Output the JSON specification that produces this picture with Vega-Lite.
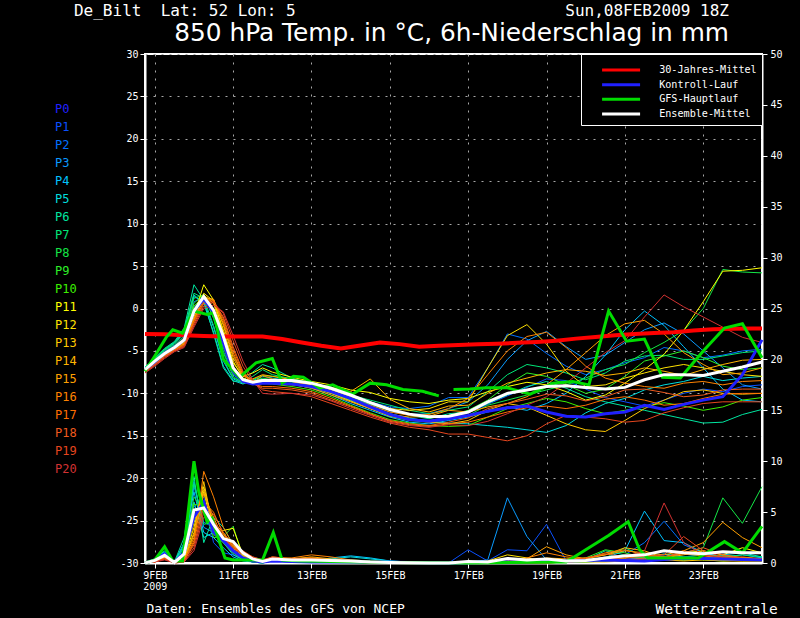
{
  "$schema": "https://vega.github.io/schema/vega-lite/v6.json",
  "width": 617,
  "height": 509,
  "autosize": {"type": "none"},
  "padding": {"left": 145, "top": 54, "right": 38, "bottom": 55},
  "background": "black",
  "title": {
    "text": "De_Bilt\u00a0\u00a0Lat: 52 Lon: 5\u00a0\u00a0\u00a0\u00a0\u00a0\u00a0\u00a0\u00a0\u00a0\u00a0\u00a0\u00a0\u00a0\u00a0\u00a0\u00a0\u00a0\u00a0\u00a0\u00a0\u00a0\u00a0\u00a0\u00a0\u00a0\u00a0\u00a0\u00a0Sun,08FEB2009 18Z\u00a0",
    "subtitle": "850 hPa Temp. in °C, 6h-Niederschlag in mm",
    "anchor": "end",
    "frame": "group",
    "dx": -33,
    "offset": 3,
    "font": "DejaVu Sans Mono",
    "fontSize": 16,
    "fontWeight": "normal",
    "color": "white",
    "subtitleFont": "DejaVu Sans",
    "subtitleFontSize": 24.8,
    "subtitleColor": "white",
    "subtitlePadding": 2
  },
  "datasets": {
    "tempMembers": [
      {"h":0,"P1":-7.1,"P2":-7.0,"P3":-7.2,"P4":-7.0,"P5":-6.9,"P6":-6.9,"P7":-7.0,"P8":-7.1,"P9":-7.1,"P10":-7.2,"P11":-7.3,"P12":-7.3,"P13":-7.2,"P14":-7.3,"P15":-7.4,"P16":-7.3,"P17":-7.4,"P18":-7.5,"P19":-7.5,"P20":-7.6},
      {"h":6,"P1":-6.2,"P2":-6.0,"P3":-6.3,"P4":-6.0,"P5":-5.9,"P6":-5.8,"P7":-5.9,"P8":-6.0,"P9":-6.1,"P10":-6.2,"P11":-6.4,"P12":-6.4,"P13":-6.3,"P14":-6.5,"P15":-6.5,"P16":-6.4,"P17":-6.6,"P18":-6.6,"P19":-6.7,"P20":-6.8},
      {"h":12,"P1":-5.2,"P2":-5.0,"P3":-5.3,"P4":-4.9,"P5":-4.8,"P6":-4.7,"P7":-4.8,"P8":-4.9,"P9":-5.1,"P10":-5.2,"P11":-5.4,"P12":-5.4,"P13":-5.4,"P14":-5.5,"P15":-5.6,"P16":-5.5,"P17":-5.6,"P18":-5.7,"P19":-5.8,"P20":-5.9},
      {"h":18,"P1":-4.5,"P2":-4.3,"P3":-4.6,"P4":-4.1,"P5":-4.0,"P6":-3.9,"P7":-4.0,"P8":-4.2,"P9":-4.4,"P10":-4.5,"P11":-4.7,"P12":-4.7,"P13":-4.7,"P14":-4.8,"P15":-4.9,"P16":-4.8,"P17":-4.9,"P18":-5.0,"P19":-5.0,"P20":-5.1},
      {"h":24,"P1":-3.6,"P2":-3.2,"P3":-3.5,"P4":-2.8,"P5":-2.6,"P6":-2.3,"P7":-2.5,"P8":-2.9,"P9":-3.3,"P10":-3.5,"P11":-3.9,"P12":-4.0,"P13":-3.9,"P14":-4.1,"P15":-4.2,"P16":-4.1,"P17":-4.3,"P18":-4.4,"P19":-4.5,"P20":-4.6},
      {"h":30,"P1":-0.2,"P2":0.8,"P3":0.2,"P4":1.4,"P5":1.6,"P6":2.8,"P7":1.8,"P8":1.2,"P9":0.6,"P10":0.3,"P11":-0.8,"P12":-1.0,"P13":-0.6,"P14":-1.2,"P15":-1.4,"P16":-1.3,"P17":-1.6,"P18":-1.8,"P19":-2.0,"P20":-2.2},
      {"h":36,"P1":1.2,"P2":1.3,"P3":1.5,"P4":0.8,"P5":0.6,"P6":1.0,"P7":1.2,"P8":1.6,"P9":1.7,"P10":1.4,"P11":2.8,"P12":1.8,"P13":1.6,"P14":1.4,"P15":1.2,"P16":1.0,"P17":0.8,"P18":0.6,"P19":0.3,"P20":0.0},
      {"h":42,"P1":-0.3,"P2":-1.0,"P3":-0.2,"P4":-2.2,"P5":-2.8,"P6":-3.0,"P7":-2.0,"P8":-1.2,"P9":-0.6,"P10":-0.4,"P11":1.0,"P12":0.9,"P13":0.6,"P14":1.0,"P15":1.1,"P16":1.0,"P17":0.9,"P18":0.8,"P19":0.7,"P20":0.4},
      {"h":48,"P1":-4.0,"P2":-5.0,"P3":-4.2,"P4":-6.2,"P5":-6.8,"P6":-7.0,"P7":-6.0,"P8":-5.2,"P9":-4.6,"P10":-4.4,"P11":-2.8,"P12":-2.5,"P13":-3.0,"P14":-2.0,"P15":-1.8,"P16":-1.5,"P17":-1.2,"P18":-1.0,"P19":-0.6,"P20":-0.4},
      {"h":54,"P1":-7.3,"P2":-7.8,"P3":-7.5,"P4":-8.3,"P5":-8.5,"P6":-8.6,"P7":-8.2,"P8":-8.0,"P9":-7.6,"P10":-7.4,"P11":-6.4,"P12":-6.2,"P13":-6.8,"P14":-5.8,"P15":-5.5,"P16":-5.2,"P17":-4.8,"P18":-4.5,"P19":-3.8,"P20":-3.2},
      {"h":60,"P1":-8.6,"P2":-8.7,"P3":-8.5,"P4":-8.8,"P5":-8.9,"P6":-8.5,"P7":-8.6,"P8":-8.8,"P9":-8.5,"P10":-8.6,"P11":-8.0,"P12":-8.2,"P13":-8.4,"P14":-8.0,"P15":-7.8,"P16":-7.8,"P17":-7.6,"P18":-7.4,"P19":-6.8,"P20":-6.2},
      {"h":66,"P1":-8.8,"P2":-8.8,"P3":-8.6,"P4":-8.6,"P5":-8.5,"P6":-7.5,"P7":-8.0,"P8":-8.6,"P9":-8.4,"P10":-8.9,"P11":-7.6,"P12":-8.6,"P13":-8.7,"P14":-8.3,"P15":-8.5,"P16":-8.8,"P17":-8.9,"P18":-8.8,"P19":-8.6,"P20":-8.4},
      {"h":72,"P1":-8.7,"P2":-8.5,"P3":-8.4,"P4":-8.3,"P5":-8.0,"P6":-6.6,"P7":-7.2,"P8":-8.2,"P9":-7.9,"P10":-8.8,"P11":-7.0,"P12":-8.4,"P13":-8.7,"P14":-7.8,"P15":-8.6,"P16":-7.9,"P17":-9.2,"P18":-9.4,"P19":-9.6,"P20":-10.0},
      {"h":78,"P1":-8.7,"P2":-8.4,"P3":-8.3,"P4":-8.6,"P5":-8.2,"P6":-7.0,"P7":-7.8,"P8":-8.4,"P9":-8.0,"P10":-8.9,"P11":-7.5,"P12":-8.5,"P13":-8.8,"P14":-8.0,"P15":-8.7,"P16":-8.3,"P17":-9.2,"P18":-9.4,"P19":-9.8,"P20":-10.1},
      {"h":90,"P1":-8.9,"P2":-8.5,"P3":-8.4,"P4":-8.9,"P5":-8.6,"P6":-8.2,"P7":-8.3,"P8":-8.7,"P9":-8.3,"P10":-9.2,"P11":-8.1,"P12":-8.6,"P13":-9.0,"P14":-8.4,"P15":-8.9,"P16":-8.6,"P17":-9.4,"P18":-9.6,"P19":-10.0,"P20":-10.0},
      {"h":102,"P1":-9.2,"P2":-8.9,"P3":-8.8,"P4":-9.4,"P5":-9.1,"P6":-9.0,"P7":-8.8,"P8":-9.2,"P9":-8.7,"P10":-9.6,"P11":-8.6,"P12":-9.0,"P13":-9.3,"P14":-8.8,"P15":-9.4,"P16":-9.1,"P17":-9.8,"P18":-10.0,"P19":-10.4,"P20":-10.2},
      {"h":114,"P1":-10.0,"P2":-9.6,"P3":-9.5,"P4":-10.2,"P5":-9.9,"P6":-9.8,"P7":-9.4,"P8":-10.0,"P9":-9.4,"P10":-10.4,"P11":-9.0,"P12":-9.6,"P13":-10.0,"P14":-9.3,"P15":-10.2,"P16":-9.8,"P17":-10.6,"P18":-10.8,"P19":-11.2,"P20":-10.9},
      {"h":126,"P1":-11.0,"P2":-10.3,"P3":-10.5,"P4":-11.2,"P5":-10.8,"P6":-10.6,"P7":-10.2,"P8":-10.9,"P9":-10.4,"P10":-11.4,"P11":-9.6,"P12":-10.4,"P13":-10.9,"P14":-9.8,"P15":-11.0,"P16":-10.6,"P17":-11.5,"P18":-11.6,"P19":-12.0,"P20":-11.8},
      {"h":138,"P1":-11.8,"P2":-11.0,"P3":-11.4,"P4":-12.0,"P5":-11.6,"P6":-11.3,"P7":-10.8,"P8":-11.8,"P9":-11.2,"P10":-12.3,"P11":-9.9,"P12":-11.0,"P13":-11.8,"P14":-8.3,"P15":-11.8,"P16":-11.4,"P17":-12.4,"P18":-12.5,"P19":-12.8,"P20":-12.6},
      {"h":150,"P1":-12.6,"P2":-11.6,"P3":-12.2,"P4":-12.8,"P5":-12.4,"P6":-12.0,"P7":-11.4,"P8":-12.7,"P9":-12.0,"P10":-13.1,"P11":-10.6,"P12":-11.8,"P13":-12.7,"P14":-10.7,"P15":-12.5,"P16":-12.2,"P17":-13.3,"P18":-13.2,"P19":-13.5,"P20":-13.4},
      {"h":162,"P1":-13.0,"P2":-11.8,"P3":-12.5,"P4":-13.4,"P5":-12.9,"P6":-12.6,"P7":-12.0,"P8":-13.2,"P9":-12.4,"P10":-13.5,"P11":-11.0,"P12":-12.0,"P13":-13.1,"P14":-11.8,"P15":-12.8,"P16":-12.6,"P17":-13.7,"P18":-13.6,"P19":-14.0,"P20":-13.8},
      {"h":174,"P1":-13.2,"P2":-11.5,"P3":-12.4,"P4":-13.6,"P5":-13.3,"P6":-13.0,"P7":-12.4,"P8":-13.4,"P9":-12.9,"P10":-13.8,"P11":-11.2,"P12":-11.8,"P13":-13.4,"P14":-12.2,"P15":-12.7,"P16":-12.5,"P17":-13.9,"P18":-13.8,"P19":-14.3,"P20":-14.0},
      {"h":186,"P1":-12.8,"P2":-10.5,"P3":-11.8,"P4":-13.2,"P5":-13.5,"P6":-12.4,"P7":-12.0,"P8":-13.0,"P9":-12.6,"P10":-13.9,"P11":-10.8,"P12":-11.0,"P13":-13.6,"P14":-11.5,"P15":-12.0,"P16":-11.8,"P17":-13.6,"P18":-13.4,"P19":-14.8,"P20":-13.7},
      {"h":198,"P1":-12.3,"P2":-10.5,"P3":-11.0,"P4":-12.8,"P5":-13.6,"P6":-12.2,"P7":-11.6,"P8":-12.6,"P9":-12.0,"P10":-13.8,"P11":-10.6,"P12":-11.0,"P13":-13.2,"P14":-11.4,"P15":-12.2,"P16":-10.6,"P17":-13.4,"P18":-12.9,"P19":-14.8,"P20":-13.8},
      {"h":210,"P1":-11.3,"P2":-7.0,"P3":-9.0,"P4":-12.2,"P5":-13.8,"P6":-11.2,"P7":-9.8,"P8":-11.4,"P9":-10.8,"P10":-12.8,"P11":-9.8,"P12":-7.0,"P13":-12.0,"P14":-10.0,"P15":-11.6,"P16":-7.8,"P17":-12.8,"P18":-11.8,"P19":-15.2,"P20":-13.3},
      {"h":222,"P1":-10.3,"P2":-3.0,"P3":-6.0,"P4":-11.6,"P5":-14.0,"P6":-10.2,"P7":-7.8,"P8":-10.8,"P9":-9.0,"P10":-11.8,"P11":-9.2,"P12":-3.2,"P13":-11.2,"P14":-8.8,"P15":-11.2,"P16":-5.0,"P17":-12.2,"P18":-11.2,"P19":-15.6,"P20":-12.4},
      {"h":234,"P1":-9.3,"P2":-3.6,"P3":-3.8,"P4":-12.0,"P5":-14.3,"P6":-9.2,"P7":-6.6,"P8":-10.2,"P9":-7.6,"P10":-11.2,"P11":-8.7,"P12":-1.9,"P13":-11.6,"P14":-8.2,"P15":-10.4,"P16":-3.3,"P17":-11.7,"P18":-10.7,"P19":-15.0,"P20":-11.4},
      {"h":246,"P1":-8.3,"P2":-5.3,"P3":-2.7,"P4":-11.2,"P5":-14.6,"P6":-8.6,"P7":-7.0,"P8":-9.6,"P9":-8.0,"P10":-10.6,"P11":-9.0,"P12":-4.2,"P13":-12.6,"P14":-7.6,"P15":-9.0,"P16":-2.8,"P17":-11.5,"P18":-10.1,"P19":-13.6,"P20":-10.4},
      {"h":258,"P1":-8.5,"P2":-6.8,"P3":-4.5,"P4":-10.0,"P5":-13.8,"P6":-9.4,"P7":-7.6,"P8":-9.0,"P9":-9.0,"P10":-11.0,"P11":-9.8,"P12":-7.4,"P13":-13.6,"P14":-7.2,"P15":-7.2,"P16":-4.6,"P17":-11.8,"P18":-10.3,"P19":-12.6,"P20":-8.8},
      {"h":270,"P1":-9.5,"P2":-7.8,"P3":-6.0,"P4":-8.0,"P5":-12.3,"P6":-10.4,"P7":-8.4,"P8":-8.2,"P9":-10.0,"P10":-11.8,"P11":-10.8,"P12":-9.2,"P13":-14.3,"P14":-7.4,"P15":-5.2,"P16":-6.8,"P17":-11.4,"P18":-10.9,"P19":-12.8,"P20":-7.0},
      {"h":282,"P1":-10.5,"P2":-7.2,"P3":-5.5,"P4":-5.5,"P5":-11.2,"P6":-11.0,"P7":-7.6,"P8":-7.2,"P9":-9.5,"P10":-12.4,"P11":-10.2,"P12":-9.0,"P13":-14.5,"P14":-7.9,"P15":-3.2,"P16":-8.2,"P17":-10.7,"P18":-10.4,"P19":-13.0,"P20":-5.2},
      {"h":294,"P1":-11.0,"P2":-6.4,"P3":-4.0,"P4":-2.5,"P5":-10.6,"P6":-11.5,"P7":-6.2,"P8":-6.6,"P9":-8.0,"P10":-12.0,"P11":-8.8,"P12":-8.2,"P13":-13.2,"P14":-7.6,"P15":-1.8,"P16":-8.8,"P17":-10.4,"P18":-9.6,"P19":-13.4,"P20":-3.8},
      {"h":306,"P1":-11.5,"P2":-5.8,"P3":-2.5,"P4":-0.3,"P5":-9.6,"P6":-12.0,"P7":-5.6,"P8":-5.2,"P9":-6.2,"P10":-11.6,"P11":-7.2,"P12":-7.6,"P13":-11.8,"P14":-7.0,"P15":-1.4,"P16":-9.2,"P17":-10.8,"P18":-9.5,"P19":-13.2,"P20":-1.0},
      {"h":318,"P1":-10.8,"P2":-4.6,"P3":-1.7,"P4":-2.0,"P5":-9.0,"P6":-12.5,"P7":-5.5,"P8":-4.0,"P9":-5.6,"P10":-11.1,"P11":-5.4,"P12":-7.0,"P13":-10.8,"P14":-7.4,"P15":-3.0,"P16":-9.4,"P17":-11.4,"P18":-9.9,"P19":-12.3,"P20":1.6},
      {"h":330,"P1":-10.0,"P2":-5.0,"P3":-3.0,"P4":-4.5,"P5":-8.6,"P6":-13.0,"P7":-6.0,"P8":-2.6,"P9":-5.0,"P10":-11.5,"P11":-2.6,"P12":-6.6,"P13":-9.8,"P14":-7.9,"P15":-5.2,"P16":-8.8,"P17":-11.2,"P18":-10.4,"P19":-11.7,"P20":0.2},
      {"h":342,"P1":-9.5,"P2":-5.8,"P3":-5.0,"P4":-7.0,"P5":-8.0,"P6":-13.5,"P7":-6.0,"P8":0.0,"P9":-5.8,"P10":-12.0,"P11":0.8,"P12":-7.0,"P13":-9.6,"P14":-7.2,"P15":-6.6,"P16":-8.6,"P17":-10.6,"P18":-10.2,"P19":-11.2,"P20":-1.0},
      {"h":354,"P1":-9.8,"P2":-5.5,"P3":-7.0,"P4":-9.5,"P5":-8.5,"P6":-13.4,"P7":-5.6,"P8":4.6,"P9":-6.8,"P10":-11.6,"P11":4.4,"P12":-7.4,"P13":-10.0,"P14":-6.6,"P15":-7.8,"P16":-9.0,"P17":-10.1,"P18":-9.6,"P19":-11.0,"P20":-2.2},
      {"h":366,"P1":-9.2,"P2":-5.0,"P3":-9.0,"P4":-10.8,"P5":-8.2,"P6":-12.5,"P7":-5.2,"P8":4.3,"P9":-7.2,"P10":-10.8,"P11":4.5,"P12":-7.8,"P13":-10.1,"P14":-6.1,"P15":-7.6,"P16":-8.6,"P17":-10.0,"P18":-9.5,"P19":-11.0,"P20":-3.4},
      {"h":378,"P1":-9.0,"P2":-4.8,"P3":-9.5,"P4":-11.0,"P5":-8.0,"P6":-11.9,"P7":-5.0,"P8":4.2,"P9":-7.0,"P10":-10.5,"P11":4.8,"P12":-8.0,"P13":-10.0,"P14":-6.0,"P15":-7.0,"P16":-8.5,"P17":-10.0,"P18":-9.5,"P19":-11.0,"P20":-4.0}
    ],
    "precipMembers": [
      {"h":0,"P1":0,"P2":0,"P3":0,"P4":0,"P5":0,"P6":0,"P7":0,"P8":0,"P9":0,"P10":0,"P11":0,"P12":0,"P13":0,"P14":0,"P15":0,"P16":0,"P17":0,"P18":0,"P19":0,"P20":0},
      {"h":6,"P1":0.3,"P2":0.4,"P3":0.3,"P4":0.4,"P5":0.3,"P6":0.4,"P7":0.3,"P8":0.3,"P9":0.2,"P10":0.3,"P11":0.2,"P12":0.2,"P13":0.2,"P14":0.2,"P15":0.2,"P16":0.1,"P17":0.1,"P18":0.1,"P19":0.1,"P20":0.1},
      {"h":12,"P1":0.9,"P2":1.0,"P3":0.8,"P4":1.1,"P5":1.0,"P6":1.2,"P7":1.0,"P8":0.9,"P9":0.8,"P10":0.9,"P11":0.7,"P12":0.7,"P13":0.6,"P14":0.6,"P15":0.5,"P16":0.5,"P17":0.4,"P18":0.4,"P19":0.4,"P20":0.3},
      {"h":18,"P1":0.1,"P2":0.1,"P3":0,"P4":0.1,"P5":0.1,"P6":0.1,"P7":0.1,"P8":0.1,"P9":0.1,"P10":0.1,"P11":0,"P12":0,"P13":0,"P14":0,"P15":0,"P16":0,"P17":0,"P18":0,"P19":0,"P20":0},
      {"h":24,"P1":0.8,"P2":1.2,"P3":1.5,"P4":2.0,"P5":1.8,"P6":2.5,"P7":1.6,"P8":1.0,"P9":0.9,"P10":0.8,"P11":0.5,"P12":0.4,"P13":0.4,"P14":0.3,"P15":0.3,"P16":0.2,"P17":0.2,"P18":0.2,"P19":0.1,"P20":0.1},
      {"h":30,"P1":5.5,"P2":7.5,"P3":8.0,"P4":7.0,"P5":6.0,"P6":8.5,"P7":7.8,"P8":6.5,"P9":5.0,"P10":5.8,"P11":4.0,"P12":3.5,"P13":3.0,"P14":2.8,"P15":2.5,"P16":2.0,"P17":2.2,"P18":1.8,"P19":1.5,"P20":1.2},
      {"h":36,"P1":6.5,"P2":4.0,"P3":3.5,"P4":3.0,"P5":2.5,"P6":2.0,"P7":3.8,"P8":5.0,"P9":6.0,"P10":5.5,"P11":7.0,"P12":7.5,"P13":8.0,"P14":7.2,"P15":6.8,"P16":9.0,"P17":6.0,"P18":5.5,"P19":5.0,"P20":4.5},
      {"h":42,"P1":2.0,"P2":3.5,"P3":3.0,"P4":2.5,"P5":3.0,"P6":4.5,"P7":4.0,"P8":3.0,"P9":2.5,"P10":2.8,"P11":3.0,"P12":3.5,"P13":3.2,"P14":4.0,"P15":4.5,"P16":6.5,"P17":5.0,"P18":4.8,"P19":4.2,"P20":4.0},
      {"h":48,"P1":1.0,"P2":2.5,"P3":2.0,"P4":1.5,"P5":2.0,"P6":3.5,"P7":2.0,"P8":2.2,"P9":2.6,"P10":2.0,"P11":3.2,"P12":2.8,"P13":2.5,"P14":3.0,"P15":2.4,"P16":3.5,"P17":2.8,"P18":3.0,"P19":2.6,"P20":2.5},
      {"h":54,"P1":0.8,"P2":1.2,"P3":1.0,"P4":0.6,"P5":0.8,"P6":1.8,"P7":1.0,"P8":1.2,"P9":3.6,"P10":1.0,"P11":3.4,"P12":1.8,"P13":1.5,"P14":1.6,"P15":1.4,"P16":1.8,"P17":1.6,"P18":1.8,"P19":1.5,"P20":1.3},
      {"h":60,"P1":0.4,"P2":0.5,"P3":0.4,"P4":0.2,"P5":0.3,"P6":0.4,"P7":0.3,"P8":0.5,"P9":0.6,"P10":0.4,"P11":0.8,"P12":0.7,"P13":0.6,"P14":0.8,"P15":0.9,"P16":1.0,"P17":1.1,"P18":1.2,"P19":1.0,"P20":0.9},
      {"h":66,"P1":0.1,"P2":0.2,"P3":0.1,"P4":0.1,"P5":0.1,"P6":0.2,"P7":0.1,"P8":0.2,"P9":0.2,"P10":0.1,"P11":0.3,"P12":0.2,"P13":0.2,"P14":0.3,"P15":0.4,"P16":0.5,"P17":0.5,"P18":0.6,"P19":0.6,"P20":0.5},
      {"h":72,"P1":0.1,"P2":0.1,"P3":0,"P4":0,"P5":0,"P6":0.1,"P7":0,"P8":0.1,"P9":0.1,"P10":0,"P11":0.1,"P12":0.1,"P13":0.1,"P14":0.1,"P15":0.2,"P16":0.2,"P17":0.2,"P18":0.3,"P19":0.3,"P20":0.3},
      {"h":78,"P1":0.2,"P2":0.3,"P3":0.2,"P4":0.2,"P5":0.3,"P6":0.5,"P7":0.4,"P8":0.3,"P9":0.4,"P10":0.2,"P11":0.5,"P12":0.4,"P13":0.3,"P14":0.4,"P15":0.5,"P16":0.5,"P17":0.6,"P18":0.6,"P19":0.5,"P20":0.5},
      {"h":90,"P1":0.1,"P2":0.2,"P3":0.1,"P4":0.1,"P5":0.2,"P6":0.3,"P7":0.2,"P8":0.2,"P9":0.3,"P10":0.1,"P11":0.3,"P12":0.3,"P13":0.2,"P14":0.4,"P15":0.4,"P16":0.5,"P17":0.4,"P18":0.4,"P19":0.3,"P20":0.3},
      {"h":102,"P1":0.1,"P2":0.1,"P3":0.2,"P4":0.2,"P5":0.3,"P6":0.2,"P7":0.2,"P8":0.1,"P9":0.2,"P10":0.1,"P11":0.3,"P12":0.4,"P13":0.2,"P14":0.6,"P15":0.5,"P16":0.8,"P17":0.5,"P18":0.4,"P19":0.3,"P20":0.2},
      {"h":114,"P1":0.1,"P2":0.1,"P3":0.3,"P4":0.5,"P5":0.4,"P6":0.2,"P7":0.3,"P8":0.1,"P9":0.2,"P10":0.1,"P11":0.2,"P12":0.2,"P13":0.2,"P14":0.4,"P15":0.3,"P16":0.6,"P17":0.3,"P18":0.2,"P19":0.2,"P20":0.1},
      {"h":126,"P1":0.1,"P2":0.2,"P3":0.2,"P4":0.7,"P5":0.6,"P6":0.3,"P7":0.2,"P8":0.2,"P9":0.2,"P10":0.1,"P11":0.2,"P12":0.1,"P13":0.1,"P14":0.2,"P15":0.2,"P16":0.3,"P17":0.2,"P18":0.1,"P19":0.1,"P20":0.1},
      {"h":138,"P1":0,"P2":0.1,"P3":0.1,"P4":0.5,"P5":0.4,"P6":0.2,"P7":0.1,"P8":0.1,"P9":0.1,"P10":0,"P11":0.2,"P12":0.1,"P13":0,"P14":0.1,"P15":0.1,"P16":0.2,"P17":0.1,"P18":0.1,"P19":0,"P20":0},
      {"h":150,"P1":0,"P2":0,"P3":0,"P4":0.2,"P5":0.2,"P6":0.1,"P7":0,"P8":0,"P9":0.1,"P10":0,"P11":0.1,"P12":0,"P13":0,"P14":0.1,"P15":0,"P16":0.1,"P17":0,"P18":0,"P19":0,"P20":0},
      {"h":162,"P1":0,"P2":0,"P3":0,"P4":0.1,"P5":0.1,"P6":0,"P7":0,"P8":0,"P9":0,"P10":0,"P11":0.1,"P12":0,"P13":0,"P14":0,"P15":0,"P16":0,"P17":0,"P18":0,"P19":0,"P20":0},
      {"h":174,"P1":0,"P2":0,"P3":0,"P4":0,"P5":0,"P6":0,"P7":0,"P8":0,"P9":0,"P10":0,"P11":0,"P12":0,"P13":0,"P14":0,"P15":0,"P16":0,"P17":0,"P18":0,"P19":0,"P20":0},
      {"h":186,"P1":0,"P2":0,"P3":0,"P4":0,"P5":0,"P6":0,"P7":0,"P8":0,"P9":0,"P10":0,"P11":0,"P12":0,"P13":0,"P14":0,"P15":0,"P16":0,"P17":0,"P18":0,"P19":0,"P20":0},
      {"h":198,"P1":1.3,"P2":0.1,"P3":0.1,"P4":0,"P5":0,"P6":0,"P7":0,"P8":0,"P9":0,"P10":0,"P11":0,"P12":0,"P13":0,"P14":0,"P15":0,"P16":0,"P17":0,"P18":0,"P19":0,"P20":0},
      {"h":210,"P1":0.2,"P2":0.1,"P3":0.3,"P4":0,"P5":0,"P6":0,"P7":0,"P8":0,"P9":0,"P10":0,"P11":0,"P12":0.2,"P13":0,"P14":0,"P15":0,"P16":0,"P17":0,"P18":0,"P19":0,"P20":0},
      {"h":222,"P1":1.3,"P2":0.2,"P3":6.4,"P4":0.1,"P5":0,"P6":0,"P7":0,"P8":0,"P9":0,"P10":0,"P11":0,"P12":0.8,"P13":0,"P14":0.1,"P15":0.1,"P16":0.2,"P17":0,"P18":0,"P19":0,"P20":0},
      {"h":234,"P1":1.2,"P2":0.3,"P3":2.6,"P4":0.1,"P5":0,"P6":0,"P7":0.1,"P8":0,"P9":0,"P10":0,"P11":0,"P12":0.5,"P13":0,"P14":0.2,"P15":0.4,"P16":0.5,"P17":0,"P18":0,"P19":0,"P20":0},
      {"h":246,"P1":3.8,"P2":0.2,"P3":0.3,"P4":0.1,"P5":0.1,"P6":0.1,"P7":0.2,"P8":0.1,"P9":0.1,"P10":0,"P11":0.1,"P12":0.2,"P13":0,"P14":0.5,"P15":1.6,"P16":1.0,"P17":0.1,"P18":0.1,"P19":0,"P20":0},
      {"h":258,"P1":0.2,"P2":0.1,"P3":0.1,"P4":0.1,"P5":0.1,"P6":0.2,"P7":0.3,"P8":0.1,"P9":0.2,"P10":0.1,"P11":0.1,"P12":0.1,"P13":0.1,"P14":0.4,"P15":0.8,"P16":0.6,"P17":0.1,"P18":0.2,"P19":0.1,"P20":0.1},
      {"h":270,"P1":0.2,"P2":0.2,"P3":0.1,"P4":0.2,"P5":0.1,"P6":0.3,"P7":0.2,"P8":0.2,"P9":0.5,"P10":0.1,"P11":0.2,"P12":0.2,"P13":0.1,"P14":0.5,"P15":0.4,"P16":0.4,"P17":0.3,"P18":0.5,"P19":0.2,"P20":0.2},
      {"h":282,"P1":0.3,"P2":0.6,"P3":0.2,"P4":0.5,"P5":0.2,"P6":1.2,"P7":0.5,"P8":0.4,"P9":1.3,"P10":0.2,"P11":0.3,"P12":0.4,"P13":0.1,"P14":0.8,"P15":0.8,"P16":1.0,"P17":0.5,"P18":0.9,"P19":0.5,"P20":0.4},
      {"h":294,"P1":0.4,"P2":0.8,"P3":0.3,"P4":1.2,"P5":0.3,"P6":0.8,"P7":1.5,"P8":0.6,"P9":1.0,"P10":0.3,"P11":0.5,"P12":0.3,"P13":0.2,"P14":1.5,"P15":1.2,"P16":1.3,"P17":0.4,"P18":0.6,"P19":0.8,"P20":0.6},
      {"h":306,"P1":0.5,"P2":2.0,"P3":0.4,"P4":5.1,"P5":0.5,"P6":0.5,"P7":0.6,"P8":0.5,"P9":0.5,"P10":0.2,"P11":0.8,"P12":0.2,"P13":0.2,"P14":1.2,"P15":1.0,"P16":0.8,"P17":0.3,"P18":0.4,"P19":0.6,"P20":1.2},
      {"h":318,"P1":0.8,"P2":4.1,"P3":0.5,"P4":2.2,"P5":0.9,"P6":0.4,"P7":0.4,"P8":0.6,"P9":0.4,"P10":0.3,"P11":0.6,"P12":0.3,"P13":0.3,"P14":0.5,"P15":0.8,"P16":0.6,"P17":0.5,"P18":0.6,"P19":0.8,"P20":5.9},
      {"h":330,"P1":0.6,"P2":1.8,"P3":0.3,"P4":2.0,"P5":0.6,"P6":0.6,"P7":0.3,"P8":1.0,"P9":0.3,"P10":0.4,"P11":1.0,"P12":0.5,"P13":0.2,"P14":0.8,"P15":1.2,"P16":0.9,"P17":1.2,"P18":1.0,"P19":2.6,"P20":2.0},
      {"h":342,"P1":0.8,"P2":1.0,"P3":0.4,"P4":1.0,"P5":0.5,"P6":0.8,"P7":0.5,"P8":1.5,"P9":0.4,"P10":0.3,"P11":1.2,"P12":0.4,"P13":0.3,"P14":1.2,"P15":2.0,"P16":0.7,"P17":0.8,"P18":1.5,"P19":1.2,"P20":0.8},
      {"h":354,"P1":0.5,"P2":0.6,"P3":0.3,"P4":0.6,"P5":0.8,"P6":0.7,"P7":0.6,"P8":6.4,"P9":0.5,"P10":0.2,"P11":0.8,"P12":0.3,"P13":0.2,"P14":0.8,"P15":4.0,"P16":0.5,"P17":0.6,"P18":0.8,"P19":0.6,"P20":0.5},
      {"h":366,"P1":0.4,"P2":0.5,"P3":0.5,"P4":0.8,"P5":1.0,"P6":0.5,"P7":0.8,"P8":3.9,"P9":0.4,"P10":0.3,"P11":1.5,"P12":0.2,"P13":0.2,"P14":0.5,"P15":2.5,"P16":0.6,"P17":0.5,"P18":0.5,"P19":0.4,"P20":0.3},
      {"h":378,"P1":0.5,"P2":0.4,"P3":0.3,"P4":0.5,"P5":0.6,"P6":0.4,"P7":0.6,"P8":7.5,"P9":0.3,"P10":0.2,"P11":1.0,"P12":0.2,"P13":0.2,"P14":0.4,"P15":1.5,"P16":0.4,"P17":0.4,"P18":0.3,"P19":0.3,"P20":0.3}
    ],
    "tempSpecial": [
      {"s":"30-Jahres-Mittel","h":0,"t":-3.0},{"s":"30-Jahres-Mittel","h":12,"t":-3.05},{"s":"30-Jahres-Mittel","h":24,"t":-3.15},{"s":"30-Jahres-Mittel","h":36,"t":-3.25},
      {"s":"30-Jahres-Mittel","h":48,"t":-3.3},{"s":"30-Jahres-Mittel","h":60,"t":-3.3},{"s":"30-Jahres-Mittel","h":72,"t":-3.3},{"s":"30-Jahres-Mittel","h":84,"t":-3.6},
      {"s":"30-Jahres-Mittel","h":96,"t":-4.0},{"s":"30-Jahres-Mittel","h":108,"t":-4.4},{"s":"30-Jahres-Mittel","h":120,"t":-4.7},{"s":"30-Jahres-Mittel","h":132,"t":-4.35},
      {"s":"30-Jahres-Mittel","h":144,"t":-4.0},{"s":"30-Jahres-Mittel","h":156,"t":-4.2},{"s":"30-Jahres-Mittel","h":168,"t":-4.5},{"s":"30-Jahres-Mittel","h":180,"t":-4.4},
      {"s":"30-Jahres-Mittel","h":192,"t":-4.3},{"s":"30-Jahres-Mittel","h":204,"t":-4.2},{"s":"30-Jahres-Mittel","h":216,"t":-4.15},{"s":"30-Jahres-Mittel","h":228,"t":-4.05},
      {"s":"30-Jahres-Mittel","h":240,"t":-3.95},{"s":"30-Jahres-Mittel","h":252,"t":-3.8},{"s":"30-Jahres-Mittel","h":264,"t":-3.55},{"s":"30-Jahres-Mittel","h":276,"t":-3.35},
      {"s":"30-Jahres-Mittel","h":288,"t":-3.15},{"s":"30-Jahres-Mittel","h":300,"t":-3.0},{"s":"30-Jahres-Mittel","h":312,"t":-2.9},{"s":"30-Jahres-Mittel","h":324,"t":-2.8},
      {"s":"30-Jahres-Mittel","h":336,"t":-2.6},{"s":"30-Jahres-Mittel","h":348,"t":-2.45},{"s":"30-Jahres-Mittel","h":360,"t":-2.4},{"s":"30-Jahres-Mittel","h":372,"t":-2.35},{"s":"30-Jahres-Mittel","h":378,"t":-2.35},
      {"s":"Kontroll-Lauf","h":0,"t":-7.2},{"s":"Kontroll-Lauf","h":6,"t":-6.3},{"s":"Kontroll-Lauf","h":12,"t":-5.3},{"s":"Kontroll-Lauf","h":18,"t":-4.6},
      {"s":"Kontroll-Lauf","h":24,"t":-3.7},{"s":"Kontroll-Lauf","h":30,"t":-0.3},{"s":"Kontroll-Lauf","h":36,"t":1.1},{"s":"Kontroll-Lauf","h":42,"t":-0.4},
      {"s":"Kontroll-Lauf","h":48,"t":-4.0},{"s":"Kontroll-Lauf","h":54,"t":-7.4},{"s":"Kontroll-Lauf","h":60,"t":-8.6},{"s":"Kontroll-Lauf","h":66,"t":-8.9},
      {"s":"Kontroll-Lauf","h":72,"t":-8.8},{"s":"Kontroll-Lauf","h":78,"t":-8.8},{"s":"Kontroll-Lauf","h":90,"t":-8.9},{"s":"Kontroll-Lauf","h":102,"t":-9.2},
      {"s":"Kontroll-Lauf","h":114,"t":-9.8},{"s":"Kontroll-Lauf","h":126,"t":-10.6},{"s":"Kontroll-Lauf","h":138,"t":-11.6},{"s":"Kontroll-Lauf","h":150,"t":-12.5},
      {"s":"Kontroll-Lauf","h":162,"t":-13.1},{"s":"Kontroll-Lauf","h":174,"t":-13.3},{"s":"Kontroll-Lauf","h":186,"t":-13.0},{"s":"Kontroll-Lauf","h":198,"t":-12.6},
      {"s":"Kontroll-Lauf","h":210,"t":-12.1},{"s":"Kontroll-Lauf","h":222,"t":-11.7},{"s":"Kontroll-Lauf","h":234,"t":-11.5},{"s":"Kontroll-Lauf","h":246,"t":-12.2},
      {"s":"Kontroll-Lauf","h":258,"t":-12.7},{"s":"Kontroll-Lauf","h":270,"t":-12.8},{"s":"Kontroll-Lauf","h":282,"t":-12.4},{"s":"Kontroll-Lauf","h":294,"t":-12.2},
      {"s":"Kontroll-Lauf","h":306,"t":-11.4},{"s":"Kontroll-Lauf","h":318,"t":-11.9},{"s":"Kontroll-Lauf","h":330,"t":-11.3},{"s":"Kontroll-Lauf","h":342,"t":-10.8},
      {"s":"Kontroll-Lauf","h":354,"t":-10.4},{"s":"Kontroll-Lauf","h":366,"t":-7.8},{"s":"Kontroll-Lauf","h":378,"t":-3.7},
      {"s":"GFS-Hauptlauf","h":0,"t":-7.4},{"s":"GFS-Hauptlauf","h":6,"t":-5.6},{"s":"GFS-Hauptlauf","h":13,"t":-3.4},{"s":"GFS-Hauptlauf","h":17,"t":-2.5},
      {"s":"GFS-Hauptlauf","h":23,"t":-2.9},{"s":"GFS-Hauptlauf","h":30,"t":-0.3},{"s":"GFS-Hauptlauf","h":38,"t":-0.7},{"s":"GFS-Hauptlauf","h":42,"t":-0.5},
      {"s":"GFS-Hauptlauf","h":44,"t":-2.1},{"s":"GFS-Hauptlauf","h":48,"t":-6.0},{"s":"GFS-Hauptlauf","h":58,"t":-8.1},{"s":"GFS-Hauptlauf","h":68,"t":-6.4},
      {"s":"GFS-Hauptlauf","h":74,"t":-6.1},{"s":"GFS-Hauptlauf","h":78,"t":-5.9},{"s":"GFS-Hauptlauf","h":84,"t":-8.8},{"s":"GFS-Hauptlauf","h":91,"t":-8.0},
      {"s":"GFS-Hauptlauf","h":97,"t":-8.1},{"s":"GFS-Hauptlauf","h":107,"t":-9.4},{"s":"GFS-Hauptlauf","h":115,"t":-9.0},{"s":"GFS-Hauptlauf","h":127,"t":-10.1},
      {"s":"GFS-Hauptlauf","h":138,"t":-8.8},{"s":"GFS-Hauptlauf","h":148,"t":-9.0},{"s":"GFS-Hauptlauf","h":158,"t":-9.55},{"s":"GFS-Hauptlauf","h":170,"t":-9.75},
      {"s":"GFS-Hauptlauf","h":180,"t":-10.3},{"s":"GFS-Hauptlauf","h":185,"t":null},{"s":"GFS-Hauptlauf","h":189,"t":-9.55},{"s":"GFS-Hauptlauf","h":199,"t":-9.5},
      {"s":"GFS-Hauptlauf","h":209,"t":-9.35},{"s":"GFS-Hauptlauf","h":222,"t":-9.35},{"s":"GFS-Hauptlauf","h":236,"t":-10.1},{"s":"GFS-Hauptlauf","h":250,"t":-8.8},
      {"s":"GFS-Hauptlauf","h":262,"t":-8.6},{"s":"GFS-Hauptlauf","h":272,"t":-9.0},{"s":"GFS-Hauptlauf","h":284,"t":-0.3},{"s":"GFS-Hauptlauf","h":295,"t":-3.85},
      {"s":"GFS-Hauptlauf","h":306,"t":-3.6},{"s":"GFS-Hauptlauf","h":317,"t":-8.1},{"s":"GFS-Hauptlauf","h":328,"t":-8.2},{"s":"GFS-Hauptlauf","h":342,"t":-5.0},
      {"s":"GFS-Hauptlauf","h":355,"t":-2.3},{"s":"GFS-Hauptlauf","h":366,"t":-1.8},{"s":"GFS-Hauptlauf","h":378,"t":-5.8},
      {"s":"Ensemble-Mittel","h":0,"t":-7.2},{"s":"Ensemble-Mittel","h":6,"t":-6.2},{"s":"Ensemble-Mittel","h":12,"t":-5.3},{"s":"Ensemble-Mittel","h":18,"t":-4.6},
      {"s":"Ensemble-Mittel","h":24,"t":-3.7},{"s":"Ensemble-Mittel","h":30,"t":-0.3},{"s":"Ensemble-Mittel","h":36,"t":1.4},{"s":"Ensemble-Mittel","h":42,"t":-0.2},
      {"s":"Ensemble-Mittel","h":48,"t":-3.3},{"s":"Ensemble-Mittel","h":54,"t":-7.0},{"s":"Ensemble-Mittel","h":60,"t":-8.4},{"s":"Ensemble-Mittel","h":66,"t":-8.7},
      {"s":"Ensemble-Mittel","h":72,"t":-8.5},{"s":"Ensemble-Mittel","h":78,"t":-8.5},{"s":"Ensemble-Mittel","h":90,"t":-8.5},{"s":"Ensemble-Mittel","h":102,"t":-8.8},
      {"s":"Ensemble-Mittel","h":114,"t":-9.4},{"s":"Ensemble-Mittel","h":126,"t":-10.2},{"s":"Ensemble-Mittel","h":138,"t":-11.1},{"s":"Ensemble-Mittel","h":150,"t":-11.9},
      {"s":"Ensemble-Mittel","h":162,"t":-12.45},{"s":"Ensemble-Mittel","h":174,"t":-12.75},{"s":"Ensemble-Mittel","h":186,"t":-12.7},{"s":"Ensemble-Mittel","h":198,"t":-12.2},
      {"s":"Ensemble-Mittel","h":210,"t":-11.0},{"s":"Ensemble-Mittel","h":222,"t":-10.0},{"s":"Ensemble-Mittel","h":234,"t":-9.6},{"s":"Ensemble-Mittel","h":246,"t":-9.2},
      {"s":"Ensemble-Mittel","h":258,"t":-9.1},{"s":"Ensemble-Mittel","h":270,"t":-9.3},{"s":"Ensemble-Mittel","h":282,"t":-9.5},{"s":"Ensemble-Mittel","h":294,"t":-9.3},
      {"s":"Ensemble-Mittel","h":306,"t":-8.4},{"s":"Ensemble-Mittel","h":318,"t":-7.8},{"s":"Ensemble-Mittel","h":330,"t":-7.8},{"s":"Ensemble-Mittel","h":342,"t":-7.9},
      {"s":"Ensemble-Mittel","h":354,"t":-7.4},{"s":"Ensemble-Mittel","h":366,"t":-6.9},{"s":"Ensemble-Mittel","h":378,"t":-6.3}
    ],
    "precipSpecial": [
      {"s":"Kontroll-Lauf","h":0,"p":0},{"s":"Kontroll-Lauf","h":6,"p":0.3},{"s":"Kontroll-Lauf","h":12,"p":0.9},{"s":"Kontroll-Lauf","h":18,"p":0.1},
      {"s":"Kontroll-Lauf","h":24,"p":1.0},{"s":"Kontroll-Lauf","h":30,"p":4.5},{"s":"Kontroll-Lauf","h":36,"p":6.0},{"s":"Kontroll-Lauf","h":42,"p":3.0},
      {"s":"Kontroll-Lauf","h":48,"p":2.2},{"s":"Kontroll-Lauf","h":54,"p":1.2},{"s":"Kontroll-Lauf","h":60,"p":0.5},{"s":"Kontroll-Lauf","h":66,"p":0.2},
      {"s":"Kontroll-Lauf","h":72,"p":0.1},{"s":"Kontroll-Lauf","h":78,"p":0.2},{"s":"Kontroll-Lauf","h":102,"p":0.1},{"s":"Kontroll-Lauf","h":138,"p":0.1},
      {"s":"Kontroll-Lauf","h":186,"p":0},{"s":"Kontroll-Lauf","h":222,"p":0.1},{"s":"Kontroll-Lauf","h":258,"p":0.2},{"s":"Kontroll-Lauf","h":282,"p":0.3},
      {"s":"Kontroll-Lauf","h":306,"p":0.2},{"s":"Kontroll-Lauf","h":330,"p":0.5},{"s":"Kontroll-Lauf","h":354,"p":0.4},{"s":"Kontroll-Lauf","h":378,"p":0.3},
      {"s":"GFS-Hauptlauf","h":0,"p":0},{"s":"GFS-Hauptlauf","h":6,"p":0.3},{"s":"GFS-Hauptlauf","h":12,"p":1.6},{"s":"GFS-Hauptlauf","h":17,"p":0.2},
      {"s":"GFS-Hauptlauf","h":23,"p":0.2},{"s":"GFS-Hauptlauf","h":30,"p":10.0},{"s":"GFS-Hauptlauf","h":33,"p":6.9},{"s":"GFS-Hauptlauf","h":38,"p":4.05},
      {"s":"GFS-Hauptlauf","h":41,"p":4.4},{"s":"GFS-Hauptlauf","h":45,"p":2.4},{"s":"GFS-Hauptlauf","h":49,"p":0.5},{"s":"GFS-Hauptlauf","h":54,"p":0.3},
      {"s":"GFS-Hauptlauf","h":72,"p":0.3},{"s":"GFS-Hauptlauf","h":78.6,"p":3.0},{"s":"GFS-Hauptlauf","h":84,"p":0.3},{"s":"GFS-Hauptlauf","h":96,"p":0.2},
      {"s":"GFS-Hauptlauf","h":150,"p":0.05},{"s":"GFS-Hauptlauf","h":198,"p":0},{"s":"GFS-Hauptlauf","h":258,"p":0.1},{"s":"GFS-Hauptlauf","h":270,"p":1.3},
      {"s":"GFS-Hauptlauf","h":284,"p":2.7},{"s":"GFS-Hauptlauf","h":296,"p":4.05},{"s":"GFS-Hauptlauf","h":303,"p":1.3},{"s":"GFS-Hauptlauf","h":308,"p":0.5},
      {"s":"GFS-Hauptlauf","h":339,"p":0.5},{"s":"GFS-Hauptlauf","h":355,"p":2.1},{"s":"GFS-Hauptlauf","h":366,"p":1.0},{"s":"GFS-Hauptlauf","h":378,"p":3.6},
      {"s":"Ensemble-Mittel","h":0,"p":0},{"s":"Ensemble-Mittel","h":6,"p":0.25},{"s":"Ensemble-Mittel","h":12,"p":0.75},{"s":"Ensemble-Mittel","h":18,"p":0.05},
      {"s":"Ensemble-Mittel","h":24,"p":0.9},{"s":"Ensemble-Mittel","h":30,"p":5.2},{"s":"Ensemble-Mittel","h":36,"p":5.4},{"s":"Ensemble-Mittel","h":42,"p":3.8},
      {"s":"Ensemble-Mittel","h":48,"p":2.4},{"s":"Ensemble-Mittel","h":54,"p":2.1},{"s":"Ensemble-Mittel","h":60,"p":1.0},{"s":"Ensemble-Mittel","h":66,"p":0.4},
      {"s":"Ensemble-Mittel","h":72,"p":0.15},{"s":"Ensemble-Mittel","h":78,"p":0.4},{"s":"Ensemble-Mittel","h":90,"p":0.3},{"s":"Ensemble-Mittel","h":102,"p":0.3},
      {"s":"Ensemble-Mittel","h":114,"p":0.25},{"s":"Ensemble-Mittel","h":126,"p":0.2},{"s":"Ensemble-Mittel","h":138,"p":0.1},{"s":"Ensemble-Mittel","h":150,"p":0.05},
      {"s":"Ensemble-Mittel","h":162,"p":0.02},{"s":"Ensemble-Mittel","h":174,"p":0},{"s":"Ensemble-Mittel","h":186,"p":0},{"s":"Ensemble-Mittel","h":198,"p":0.15},
      {"s":"Ensemble-Mittel","h":210,"p":0.1},{"s":"Ensemble-Mittel","h":222,"p":0.45},{"s":"Ensemble-Mittel","h":234,"p":0.3},{"s":"Ensemble-Mittel","h":246,"p":0.4},
      {"s":"Ensemble-Mittel","h":258,"p":0.2},{"s":"Ensemble-Mittel","h":270,"p":0.25},{"s":"Ensemble-Mittel","h":282,"p":0.5},{"s":"Ensemble-Mittel","h":294,"p":0.7},
      {"s":"Ensemble-Mittel","h":306,"p":0.8},{"s":"Ensemble-Mittel","h":318,"p":1.2},{"s":"Ensemble-Mittel","h":330,"p":1.0},{"s":"Ensemble-Mittel","h":342,"p":0.9},
      {"s":"Ensemble-Mittel","h":354,"p":1.1},{"s":"Ensemble-Mittel","h":366,"p":1.0},{"s":"Ensemble-Mittel","h":378,"p":1.0}
    ]
  },
  "encoding": {
    "x": {
      "field": "h",
      "type": "quantitative",
      "scale": {"domain": [0, 378], "nice": false, "zero": false},
      "axis": {
        "values": [6, 54, 102, 150, 198, 246, 294, 342],
        "labelExpr": "datum.value == 6 ? ['9FEB', '2009'] : (9 + (datum.value - 6) / 24) + 'FEB'",
        "grid": true,
        "gridColor": "#a8a8a8",
        "gridDash": [2, 6],
        "domainColor": "white",
        "domainWidth": 2,
        "tickColor": "white",
        "tickSize": 5,
        "labelColor": "white",
        "labelFont": "DejaVu Sans Mono",
        "labelFontSize": 10,
        "labelPadding": 2,
        "labelLineHeight": 11,
        "labelFlush": false,
        "labelOverlap": false,
        "title": "Daten: Ensembles des GFS von NCEP",
        "titleX": 1,
        "titleY": 49,
        "titleAlign": "left",
        "titleBaseline": "alphabetic",
        "titleFont": "DejaVu Sans Mono",
        "titleFontSize": 13,
        "titleFontWeight": "normal",
        "titleColor": "white"
      }
    }
  },
  "layer": [
    {
      "encoding": {
        "y": {
          "field": "t",
          "type": "quantitative",
          "scale": {"domain": [-30, 30], "nice": false, "zero": false},
          "axis": {
            "orient": "left",
            "values": [-30, -25, -20, -15, -10, -5, 0, 5, 10, 15, 20, 25, 30],
            "labelExpr": "'' + datum.value",
            "grid": true,
            "gridColor": "#a8a8a8",
            "gridDash": [2, 6],
            "domainColor": "white",
            "domainWidth": 2,
            "tickColor": "white",
            "tickSize": 5,
            "labelColor": "white",
            "labelFont": "DejaVu Sans Mono",
            "labelFontSize": 10,
            "labelPadding": 2,
            "labelFlush": false,
            "labelOverlap": false,
            "title": "Wetterzentrale",
            "titleX": 510,
            "titleY": 559,
            "titleAngle": 0,
            "titleAlign": "left",
            "titleBaseline": "alphabetic",
            "titleFont": "DejaVu Sans Mono",
            "titleFontSize": 14.5,
            "titleFontWeight": "normal",
            "titleColor": "white"
          }
        }
      },
      "layer": [
        {
          "data": {"name": "tempMembers"},
          "transform": [{"fold": ["P1","P2","P3","P4","P5","P6","P7","P8","P9","P10","P11","P12","P13","P14","P15","P16","P17","P18","P19","P20"], "as": ["key", "t"]}],
          "mark": {"type": "line", "strokeWidth": 1},
          "encoding": {
            "color": {
              "field": "key",
              "type": "nominal",
              "scale": {
                "domain": ["P0","P1","P2","P3","P4","P5","P6","P7","P8","P9","P10","P11","P12","P13","P14","P15","P16","P17","P18","P19","P20"],
                "range": ["#2020ff","#0a50ff","#0070ff","#0a9bff","#00c3ff","#00dcdc","#00e6a0","#00e678","#14e646","#2ef028","#3cf000","#ffff00","#ffe100","#ffc800","#ffb400","#ffa000","#ff8200","#ff6e00","#f05a1e","#e6461e","#d23232"]
              },
              "legend": {
                "orient": "none", "legendX": -102, "legendY": 49, "direction": "vertical", "title": null,
                "symbolSize": 0, "symbolOpacity": 0, "symbolStrokeWidth": 0, "labelOffset": 0, "padding": 0, "rowPadding": 6,
                "labelFont": "DejaVu Sans Mono", "labelFontSize": 12, "labelBaseline": "middle",
                "labelColor": {"expr": "scale('color', datum.value)"}
              }
            }
          }
        },
        {
          "data": {"name": "tempSpecial"},
          "encoding": {
            "stroke": {
              "field": "s",
              "type": "nominal",
              "scale": {"domain": ["30-Jahres-Mittel","Kontroll-Lauf","GFS-Hauptlauf","Ensemble-Mittel"], "range": ["#ff0000","#2020ff","#00dc00","#ffffff"]},
              "legend": {
                "orient": "top-right", "offset": 0, "title": "\u00a0", "titleFontSize": 2, "titlePadding": 4,
                "symbolType": "M-9.5,0H9.5", "symbolSize": 16, "symbolStrokeWidth": 3, "symbolOffset": 30,
                "labelOffset": 33, "labelFont": "DejaVu Sans Mono", "labelFontSize": 10.15, "labelColor": "white",
                "rowPadding": 1.6, "padding": 5, "strokeColor": "white", "fillColor": "black"
              }
            }
          },
          "layer": [
            {"transform": [{"filter": "datum.s == '30-Jahres-Mittel'"}], "mark": {"type": "line", "strokeWidth": 4}},
            {"transform": [{"filter": "datum.s == 'Kontroll-Lauf'"}], "mark": {"type": "line", "strokeWidth": 3}},
            {"transform": [{"filter": "datum.s == 'GFS-Hauptlauf'"}], "mark": {"type": "line", "strokeWidth": 3}},
            {"transform": [{"filter": "datum.s == 'Ensemble-Mittel'"}], "mark": {"type": "line", "strokeWidth": 3}}
          ]
        }
      ]
    },
    {
      "encoding": {
        "y": {
          "field": "p",
          "type": "quantitative",
          "scale": {"domain": [0, 50], "nice": false, "zero": true},
          "axis": {
            "orient": "right",
            "values": [0, 5, 10, 15, 20, 25, 30, 35, 40, 45, 50],
            "grid": false,
            "domainColor": "white",
            "domainWidth": 2,
            "tickColor": "white",
            "tickSize": 5,
            "labelColor": "white",
            "labelFont": "DejaVu Sans Mono",
            "labelFontSize": 10,
            "labelPadding": 3,
            "labelFlush": false,
            "labelOverlap": false,
            "title": null
          }
        }
      },
      "layer": [
        {
          "data": {"name": "precipMembers"},
          "transform": [{"fold": ["P1","P2","P3","P4","P5","P6","P7","P8","P9","P10","P11","P12","P13","P14","P15","P16","P17","P18","P19","P20"], "as": ["key", "p"]}],
          "mark": {"type": "line", "strokeWidth": 1},
          "encoding": {
            "color": {
              "field": "key",
              "type": "nominal",
              "scale": {
                "domain": ["P0","P1","P2","P3","P4","P5","P6","P7","P8","P9","P10","P11","P12","P13","P14","P15","P16","P17","P18","P19","P20"],
                "range": ["#2020ff","#0a50ff","#0070ff","#0a9bff","#00c3ff","#00dcdc","#00e6a0","#00e678","#14e646","#2ef028","#3cf000","#ffff00","#ffe100","#ffc800","#ffb400","#ffa000","#ff8200","#ff6e00","#f05a1e","#e6461e","#d23232"]
              },
              "legend": {
                "orient": "none", "legendX": -102, "legendY": 49, "direction": "vertical", "title": null,
                "symbolSize": 0, "symbolOpacity": 0, "symbolStrokeWidth": 0, "labelOffset": 0, "padding": 0, "rowPadding": 6,
                "labelFont": "DejaVu Sans Mono", "labelFontSize": 12, "labelBaseline": "middle",
                "labelColor": {"expr": "scale('color', datum.value)"}
              }
            }
          }
        },
        {
          "data": {"name": "precipSpecial"},
          "encoding": {
            "stroke": {
              "field": "s",
              "type": "nominal",
              "scale": {"domain": ["30-Jahres-Mittel","Kontroll-Lauf","GFS-Hauptlauf","Ensemble-Mittel"], "range": ["#ff0000","#2020ff","#00dc00","#ffffff"]},
              "legend": {
                "orient": "top-right", "offset": 0, "title": "\u00a0", "titleFontSize": 2, "titlePadding": 4,
                "symbolType": "M-9.5,0H9.5", "symbolSize": 16, "symbolStrokeWidth": 3, "symbolOffset": 30,
                "labelOffset": 33, "labelFont": "DejaVu Sans Mono", "labelFontSize": 10.15, "labelColor": "white",
                "rowPadding": 1.6, "padding": 5, "strokeColor": "white", "fillColor": "black"
              }
            }
          },
          "layer": [
            {"transform": [{"filter": "datum.s == 'Kontroll-Lauf'"}], "mark": {"type": "line", "strokeWidth": 3}},
            {"transform": [{"filter": "datum.s == 'GFS-Hauptlauf'"}], "mark": {"type": "line", "strokeWidth": 3}},
            {"transform": [{"filter": "datum.s == 'Ensemble-Mittel'"}], "mark": {"type": "line", "strokeWidth": 3}}
          ]
        }
      ]
    }
  ],
  "resolve": {"scale": {"y": "independent"}, "axis": {"y": "independent"}},
  "config": {
    "view": {"stroke": "white", "strokeWidth": 2},
    "axis": {"domainColor": "white", "tickColor": "white"}
  }
}
